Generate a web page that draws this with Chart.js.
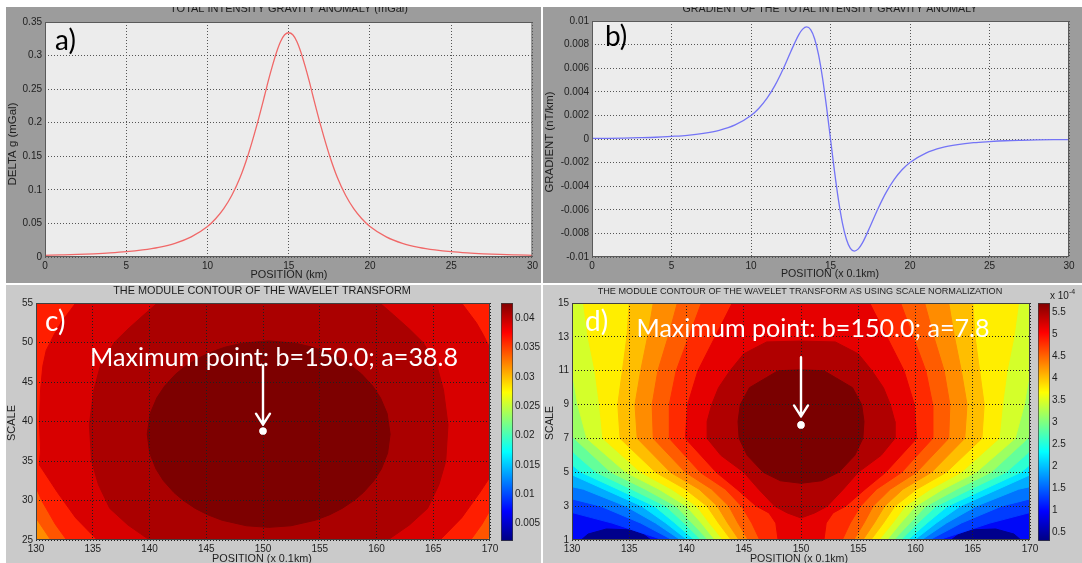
<!DOCTYPE html>
<html>
<head>
<meta charset="utf-8">
<script src="https://cdn.jsdelivr.net/npm/chart.js@4.4.1/dist/chart.umd.min.js"></script>
<style>
  body { margin: 0; background: #fff; }
  #page { position: relative; width: 1082px; height: 563px; overflow: hidden; }
  .panel { position: absolute; overflow: hidden; }
  .panel canvas { position: absolute; top: 0; }
</style>
</head>
<body>
<div id="page">
  <div class="panel" style="left:6px;top:7px;width:535px;height:276px;background:#9c9c9c">
    <canvas id="chartA" width="535" height="276" style="left:0"></canvas>
  </div>
  <div class="panel" style="left:543px;top:7px;width:539px;height:276px;background:#9c9c9c">
    <canvas id="chartB" width="539" height="276" style="left:0"></canvas>
  </div>
  <div class="panel" style="left:6px;top:285px;width:535px;height:278px;background:#cacaca">
    <canvas id="chartC" width="535" height="278" style="left:0"></canvas>
    <canvas id="barC" width="40" height="278" style="left:495px"></canvas>
  </div>
  <div class="panel" style="left:543px;top:285px;width:539px;height:278px;background:#cacaca">
    <canvas id="chartD" width="539" height="278" style="left:0"></canvas>
    <canvas id="barD" width="44" height="278" style="left:495px"></canvas>
  </div>
</div>
<script>
// a) total intensity gravity anomaly (mGal) along the profile (km)
const posA = [0,1,2,3,4,5,6,7,8,9,10,10.5,11,11.5,12,12.5,13,13.5,13.75,14,14.25,14.5,14.75,15,
  15.25,15.5,15.75,16,16.25,16.5,17,17.5,18,18.5,19,19.5,20,21,22,23,24,25,26,27,28,29,30];
const deltaG = [0.0025,0.0031,0.0038,0.0048,0.0061,0.0079,0.0106,0.0145,0.0204,0.030,0.0455,0.057,0.072,0.092,
  0.118,0.152,0.193,0.239,0.263,0.285,0.305,0.321,0.331,0.334,0.331,0.321,0.305,0.285,0.263,0.239,0.193,0.152,
  0.118,0.092,0.072,0.057,0.0455,0.030,0.0204,0.0145,0.0106,0.0079,0.0061,0.0048,0.0038,0.0031,0.0025];

// b) gradient of the anomaly
const posB = [0,1,2,3,4,5,6,7,8,9,10,10.5,11,11.5,12,12.5,13,13.25,13.5,13.75,14,14.25,14.5,14.75,15,
  15.25,15.5,15.75,16,16.25,16.5,16.75,17,17.5,18,18.5,19,19.5,20,21,22,23,24,25,26,27,28,29,30];
const gradient = [0.00005,0.00006,0.00008,0.00011,0.00015,0.00022,0.00031,0.00047,0.00073,0.00119,0.00199,
  0.00261,0.00344,0.00452,0.00587,0.0074,0.00883,0.00931,0.0095,0.00927,0.0085,0.00713,0.00516,0.00272,0,
  -0.00272,-0.00516,-0.00713,-0.0085,-0.00927,-0.0095,-0.00931,-0.00883,-0.0074,-0.00587,-0.00452,-0.00344,
  -0.00261,-0.00199,-0.00119,-0.00073,-0.00047,-0.00031,-0.00022,-0.00015,-0.00011,-0.00008,-0.00006,-0.00005];

// tick values and labels
const aXTicks = [0,5,10,15,20,25,30];
const aXLabels = ['0','5','10','15','20','25','30'];
const aYTicks = [0,0.05,0.1,0.15,0.2,0.25,0.3,0.35];
const aYLabels = ['0','0.05','0.1','0.15','0.2','0.25','0.3','0.35'];
const bYTicks = [-0.01,-0.008,-0.006,-0.004,-0.002,0,0.002,0.004,0.006,0.008,0.01];
const bYLabels = ['-0.01','-0.008','-0.006','-0.004','-0.002','0','0.002','0.004','0.006','0.008','0.01'];
const cdXTicks = [130,135,140,145,150,155,160,165,170];
const cdXLabels = ['130','135','140','145','150','155','160','165','170'];
const cYTicks = [25,30,35,40,45,50,55];
const cYLabels = ['25','30','35','40','45','50','55'];
const dYTicks = [1,3,5,7,9,11,13,15];
const dYLabels = ['1','3','5','7','9','11','13','15'];
const barCTicks = [0.005,0.01,0.015,0.02,0.025,0.03,0.035,0.04];
const barCLabels = ['0.005','0.01','0.015','0.02','0.025','0.03','0.035','0.04'];
const barDTicks = [0.5,1,1.5,2,2.5,3,3.5,4,4.5,5,5.5];
const barDLabels = ['0.5','1','1.5','2','2.5','3','3.5','4','4.5','5','5.5'];
const barCRange = [0.0020, 0.0426];
const barDRange = [0.29, 5.71];

// c) contour levels: [scale, half width in position units] about b = cCenter
const cCenter = 150.5;
const cLevel1 = [[25,19.2],[26.5,19.9],[28,20.6],[29,22]];
const cLevel2 = [[25,17.8],[27,18.8],[28.5,19.4],[30,20.0],[32,20.6],[33,22]];
const cLevel3 = [[25,15.1],[27.8,17.0],[31,18.6],[34.5,20.2],[36.5,20.1],[40,20.2],[44,20.1],[47,19.9],[49,19.6],
  [51,18.9],[52.5,18.3],[55,17.0]];
const cLevel4 = [[25,10.5],[26.9,12.4],[29,14.0],[32,15.0],[35,15.6],[39.6,15.8],[44,15.4],[47.2,14.8],[50,13.6],
  [51.7,12.4],[53.5,11.0],[55,9.8]];
const cLevel5 = [[26.6,0],[26.8,1.96],[27.5,4.1],[28.2,5.38],[29,6.47],[30,7.51],[31,8.34],[32.5,9.27],[34,9.93],
  [36,10.48],[38.4,10.7],[41,10.44],[43,9.85],[44.5,9.16],[46,8.19],[47,7.33],[48,6.22],[48.8,5.05],[49.4,3.87],
  [49.9,2.4],[50.2,0]];
const cLevels = [cLevel1, cLevel2, cLevel3, cLevel4, cLevel5];
const cMax = [150.0, 38.8];
const cArrow = [150, 47.1, 39.6];

// d) contour levels (scale normalization), half widths about b = dCenter
const dCenter = 150;
const dLevel02 = [[1,12.0],[2,16.5],[2.8,21],[3,23]];
const dLevel03 = [[1,11.2],[2,14.0],[3,17.5],[3.6,21],[3.8,23]];
const dLevel04 = [[1,10.5],[2,12.7],[3,15.3],[4,19.0],[4.3,21],[4.5,23]];
const dLevel05 = [[1,9.9],[2,11.8],[3,13.9],[4,17.2],[5,20.5],[5.3,23]];
const dLevel06 = [[1,9.3],[2,11.0],[3,12.8],[4,16.0],[5,19.2],[6,21],[6.3,23]];
const dLevel07 = [[1,8.7],[2,10.2],[3,11.8],[4,14.8],[5,17.9],[6,19.6],[7,21],[7.3,23]];
const dLevel08 = [[1,8.1],[2,9.5],[3,10.9],[4,13.6],[5,16.6],[7,19.8],[8,20.6],[9,21.5],[9.3,23]];
const dLevel09 = [[1,7.5],[2,8.7],[3,10.0],[4,12.4],[5,15.3],[7,18.7],[9,19.5],[11,20.0],[13,20.5],[15,20.8]];
const dLevel10 = [[1,6.8],[2,8.0],[3,9.1],[4,11.3],[5,14.0],[7,17.3],[9,17.6],[11,18.0],[13,18.6],[15,19.0]];
const dLevel11 = [[1,6.1],[2,7.2],[3,8.2],[4,10.1],[5,12.7],[7,15.8],[9,16.0],[11,15.6],[13,15.2],[15,15.0]];
const dLevel12 = [[1,5.4],[2,6.4],[3,7.3],[4,8.9],[5,11.4],[7,14.3],[9,14.5],[11,14.0],[13,13.4],[15,12.9]];
const dLevel13 = [[1,4.6],[2,5.5],[3,6.3],[4,7.8],[5,10.1],[7,12.9],[9,13.0],[11,12.5],[13,11.6],[15,10.8]];
const dLevel14 = [[1,3.6],[2,4.3],[3,5.2],[4,6.6],[5,8.8],[7,11.5],[9,11.5],[11,10.9],[13,9.8],[15,8.7]];
const dLevel15 = [[1,2.0],[2,2.2],[2.6,2.8],[3,3.9],[4,5.6],[5,7.4],[7,10.1],[9,9.9],[11,9.0],[13,7.5],[15,6.0]];
const dLevel16 = [[2.3,0],[2.6,1.2],[3,2.3],[4,3.7],[5,5.0],[6,7.0],[7,8.2],[8,8.2],[9,7.8],[10,7.2],[11,6.2],
  [12,5.0],[12.7,3.0],[12.75,0]];
const dLevel17 = [[4.35,0],[4.5,1.8],[5,3.3],[6,4.7],[7,5.4],[8,5.5],[9,5.3],[10,4.5],[10.6,3.0],[11,2.0],[11.05,0]];
const dLevels = [dLevel02, dLevel03, dLevel04, dLevel05, dLevel06, dLevel07, dLevel08, dLevel09, dLevel10,
  dLevel11, dLevel12, dLevel13, dLevel14, dLevel15, dLevel16, dLevel17];
// darkest blue pockets at the bottom, [position, scale]
const dBlobLeft = [[130.8,1],[131.4,1.35],[133,1.65],[135,1.6],[136.3,1.3],[136.9,1],[136.9,0],[130.8,0]];
const dBlobRight = [[163.1,1],[163.7,1.3],[165,1.6],[167,1.65],[168.6,1.35],[169.2,1],[169.2,0],[163.1,0]];
const dMax = [150.0, 7.8];
const dArrow = [150, 11.8, 8.3];

// styles
const cColors = ['#ff8c00','#ff5500','#ff1e00','#d80000','#aa0000','#7d0000'];
const dColors = ['#00008c','#0008f8','#003cff','#0074ff','#00acff','#00e4ff','#2cffd2','#64ff9a','#9cff62',
  '#d4ff2a','#ffee00','#ffbe00','#ff8c00','#ff5c00','#ff2a00','#e60000','#b00000','#7a0000'];
const jetStops = [[0,'#000080'],[0.125,'#0000ff'],[0.375,'#00ffff'],[0.625,'#ffff00'],[0.875,'#ff0000'],[1,'#800000']];

const SANS = "'Liberation Sans', Arial, sans-serif";
const HAND = "Lato, 'Open Sans', sans-serif";
Chart.defaults.font.family = SANS;
Chart.defaults.font.size = 10;
Chart.defaults.color = '#1e1e1e';
Chart.defaults.animation = false;
Chart.defaults.events = [];
Chart.defaults.plugins.legend.display = false;
Chart.defaults.plugins.tooltip.enabled = false;

const fixTicks = vals => axis => { axis.ticks = vals.map(v => ({value: v})); };

function axis(min, max, vals, labels, dir, size, gridColor, gridZ) {
  return {
    type: 'linear', min, max,
    afterBuildTicks: fixTicks(vals),
    afterFit: dir === 'x' ? s => { s.height = size; } : s => { s.width = size; },
    grid: { color: gridColor, lineWidth: 1, drawTicks: false, z: gridZ },
    border: { display: false, dash: [1, 2] },
    ticks: { padding: 3, autoSkip: false, maxRotation: 0, callback: (v, i) => labels[i] }
  };
}

function plotBox(fillColor, frameColor) {
  return {
    id: 'plotBox',
    beforeDraw(chart) {
      const a = chart.chartArea, ctx = chart.ctx;
      ctx.save();
      ctx.fillStyle = fillColor;
      ctx.fillRect(a.left, a.top, a.right - a.left, a.bottom - a.top);
      ctx.restore();
    },
    afterDraw(chart) {
      const a = chart.chartArea, ctx = chart.ctx;
      ctx.save();
      ctx.strokeStyle = frameColor;
      ctx.lineWidth = 1;
      ctx.strokeRect(a.left + 0.5, a.top + 0.5, a.right - a.left - 1, a.bottom - a.top - 1);
      ctx.restore();
    }
  };
}

function textLayer(items) {
  return {
    id: 'textLayer',
    afterDraw(chart) {
      const ctx = chart.ctx;
      for (const it of items) {
        ctx.save();
        const fam = it.fam || SANS;
        let size = it.size;
        ctx.font = size + 'px ' + fam;
        if (it.w) {
          size = size * it.w / ctx.measureText(it.t).width;
          ctx.font = size.toFixed(2) + 'px ' + fam;
        }
        ctx.fillStyle = it.color || '#1e1e1e';
        ctx.textAlign = it.align || 'center';
        ctx.textBaseline = it.base || 'middle';
        ctx.translate(it.x, it.y);
        if (it.rot) ctx.rotate(it.rot);
        ctx.fillText(it.t, 0, 0);
        ctx.restore();
      }
    }
  };
}

// white arrow pointing at the maximum, placed with the chart's scales
function arrowLayer(arrow) {
  return {
    id: 'arrowLayer',
    afterDraw(chart) {
      const sx = chart.scales.x, sy = chart.scales.y, ctx = chart.ctx;
      const px = sx.getPixelForValue(arrow[0]);
      const p0 = sy.getPixelForValue(arrow[1]);
      const p1 = sy.getPixelForValue(arrow[2]);
      ctx.save();
      ctx.strokeStyle = '#fff';
      ctx.lineWidth = 2.4;
      ctx.lineCap = 'round';
      ctx.lineJoin = 'round';
      ctx.beginPath();
      ctx.moveTo(px, p0);
      ctx.lineTo(px, p1);
      ctx.moveTo(px - 7, p1 - 11);
      ctx.lineTo(px, p1);
      ctx.lineTo(px + 7, p1 - 11);
      ctx.stroke();
      // redraw the maximum point above the grid
      chart.getDatasetMeta(0).data.forEach(p => p.draw(ctx, chart.chartArea));
      ctx.restore();
    }
  };
}

// closed outline of one contour level from its half-width profile
function levelShape(pairs, center, yMin, yMax) {
  const left = pairs.map(p => ({x: center - p[1], y: p[0]}));
  const right = pairs.slice().reverse().map(p => ({x: center + p[1], y: p[0]}));
  const first = pairs[0], last = pairs[pairs.length - 1];
  if (first[0] <= yMin) {
    left.unshift({x: center - first[1], y: yMin - 2});
    right.push({x: center + first[1], y: yMin - 2});
  }
  if (last[0] >= yMax || last[1] >= 20) {
    left.push({x: center - last[1], y: yMax + 2});
    right.unshift({x: center + last[1], y: yMax + 2});
  }
  const pts = left.concat(right);
  pts.push(pts[0]);
  return pts;
}

function shapeSet(points, color, order) {
  return { data: points, showLine: true, fill: 'shape', backgroundColor: color, borderColor: color,
    borderWidth: 1, pointRadius: 0, tension: 0, clip: 0, order };
}

function maxPointSet(p) {
  return { data: [{x: p[0], y: p[1]}], pointRadius: 3.6, pointBackgroundColor: '#fff',
    pointBorderColor: '#fff', pointBorderWidth: 0, order: 0 };
}

function jetFill(ctx) {
  const chart = ctx.chart, a = chart.chartArea;
  if (!a) return '#800000';
  const g = chart.ctx.createLinearGradient(0, a.bottom, 0, a.top);
  jetStops.forEach(s => g.addColorStop(s[0], s[1]));
  return g;
}

// ---------- a ----------
new Chart(document.getElementById('chartA'), {
  type: 'scatter',
  data: { datasets: [{ data: posA.map((x, i) => ({x, y: deltaG[i]})), showLine: true, borderColor: '#f06868',
    borderWidth: 1.3, pointRadius: 0, cubicInterpolationMode: 'monotone' }] },
  options: {
    responsive: false,
    layout: { padding: { left: 0, top: 15, right: 7, bottom: 0 } },
    scales: {
      x: axis(0, 30, aXTicks, aXLabels, 'x', 26, '#555', -1),
      y: axis(0, 0.35, aYTicks, aYLabels, 'y', 39, '#555', -1)
    }
  },
  plugins: [plotBox('#ececec', '#5a5a5a'), textLayer([
    {t: 'TOTAL INTENSITY GRAVITY ANOMALY (mGal)', x: 283, y: 5, size: 10, w: 238, base: 'alphabetic'},
    {t: 'POSITION (km)', x: 283, y: 268, size: 10, w: 77},
    {t: 'DELTA g (mGal)', x: 7, y: 137, size: 10, w: 83, rot: -Math.PI / 2},
    {t: 'a)', x: 49, y: 43, size: 28, fam: HAND, align: 'left', base: 'alphabetic', color: '#000'}
  ])]
});

// ---------- b ----------
new Chart(document.getElementById('chartB'), {
  type: 'scatter',
  data: { datasets: [{ data: posB.map((x, i) => ({x, y: gradient[i]})), showLine: true, borderColor: '#7474f6',
    borderWidth: 1.3, pointRadius: 0, cubicInterpolationMode: 'monotone' }] },
  options: {
    responsive: false,
    layout: { padding: { left: 0, top: 14, right: 13, bottom: 0 } },
    scales: {
      x: axis(0, 30, aXTicks, aXLabels, 'x', 26, '#555', -1),
      y: axis(-0.01, 0.01, bYTicks, bYLabels, 'y', 49, '#555', -1)
    }
  },
  plugins: [plotBox('#ececec', '#5a5a5a'), textLayer([
    {t: 'GRADIENT OF THE TOTAL INTENSITY GRAVITY ANOMALY', x: 287, y: 5, size: 10, w: 295, base: 'alphabetic'},
    {t: 'POSITION (x 0.1km)', x: 287, y: 267, size: 10, w: 98},
    {t: 'GRADIENT (nT/km)', x: 7, y: 135, size: 10, w: 101, rot: -Math.PI / 2},
    {t: 'b)', x: 62, y: 39, size: 28, fam: HAND, align: 'left', base: 'alphabetic', color: '#000'}
  ])]
});

// ---------- c ----------
const cSets = [maxPointSet(cMax)];
cLevels.forEach((lv, k) => cSets.push(shapeSet(levelShape(lv, cCenter, 25, 55), cColors[k + 1], 100 - k)));
new Chart(document.getElementById('chartC'), {
  type: 'scatter',
  data: { datasets: cSets },
  options: {
    responsive: false,
    layout: { padding: { left: 0, top: 18, right: 51, bottom: 0 } },
    scales: {
      x: axis(130, 170, cdXTicks, cdXLabels, 'x', 23, '#202020', 1),
      y: axis(25, 55, cYTicks, cYLabels, 'y', 30, '#202020', 1)
    }
  },
  plugins: [plotBox(cColors[0], '#404040'), arrowLayer(cArrow), textLayer([
    {t: 'THE MODULE CONTOUR OF THE WAVELET TRANSFORM', x: 256, y: 6, size: 11, w: 298},
    {t: 'POSITION (x 0.1km)', x: 256, y: 274, size: 10, w: 100},
    {t: 'SCALE', x: 6, y: 138, size: 10, w: 36, rot: -Math.PI / 2},
    {t: 'c)', x: 39, y: 46, size: 28, fam: HAND, align: 'left', base: 'alphabetic', color: '#fff'},
    {t: 'Maximum point: b=150.0; a=38.8', x: 268, y: 81, size: 28, w: 368, fam: HAND, base: 'alphabetic', color: '#fff'}
  ])]
});

// ---------- d ----------
const dSets = [maxPointSet(dMax)];
dLevels.forEach((lv, k) => dSets.push(shapeSet(levelShape(lv, dCenter, 1, 15), dColors[k + 2], 100 - k)));
dSets.push(shapeSet(dBlobLeft.map(p => ({x: p[0], y: p[1]})), dColors[0], 150));
dSets.push(shapeSet(dBlobRight.map(p => ({x: p[0], y: p[1]})), dColors[0], 151));
new Chart(document.getElementById('chartD'), {
  type: 'scatter',
  data: { datasets: dSets },
  options: {
    responsive: false,
    layout: { padding: { left: 0, top: 18, right: 52, bottom: 0 } },
    scales: {
      x: axis(130, 170, cdXTicks, cdXLabels, 'x', 23, '#202020', 1),
      y: axis(1, 15, dYTicks, dYLabels, 'y', 29, '#202020', 1)
    }
  },
  plugins: [plotBox(dColors[1], '#404040'), arrowLayer(dArrow), textLayer([
    {t: 'THE MODULE CONTOUR OF THE WAVELET TRANSFORM AS USING SCALE NORMALIZATION', x: 257, y: 6, size: 9, w: 405},
    {t: 'POSITION (x 0.1km)', x: 256, y: 274, size: 10, w: 98},
    {t: 'SCALE', x: 7, y: 138, size: 10, w: 34, rot: -Math.PI / 2},
    {t: 'd)', x: 42, y: 46, size: 28, fam: HAND, align: 'left', base: 'alphabetic', color: '#fff'},
    {t: 'Maximum point: b=150.0; a=7.8', x: 270, y: 52, size: 28, w: 353, fam: HAND, base: 'alphabetic', color: '#fff'}
  ])]
});

// ---------- colour bars ----------
function colorBar(id, range, ticks, labels, axisWidth, extraText) {
  new Chart(document.getElementById(id), {
    type: 'bar',
    data: { labels: [''], datasets: [{ data: [range], backgroundColor: jetFill, borderColor: '#3a3a3a',
      borderWidth: 1, borderSkipped: false, barPercentage: 1, categoryPercentage: 1 }] },
    options: {
      responsive: false,
      layout: { padding: { left: 0, right: 0, top: 18, bottom: 22 } },
      scales: {
        x: { display: false },
        y: { position: 'right', min: range[0], max: range[1], afterBuildTicks: fixTicks(ticks),
          afterFit: s => { s.width = axisWidth; }, grid: { display: false, drawTicks: false },
          border: { display: false },
          ticks: { padding: 2, autoSkip: false, callback: (v, i) => labels[i] } }
      }
    },
    plugins: [textLayer(extraText)]
  });
}
colorBar('barC', barCRange, barCTicks, barCLabels, 28, []);
colorBar('barD', barDRange, barDTicks, barDLabels, 32, [
  {t: 'x 10', x: 12, y: 14, size: 10, align: 'left', base: 'alphabetic'},
  {t: '-4', x: 31, y: 9, size: 7, align: 'left', base: 'alphabetic'}
]);
</script>
</body>
</html>
